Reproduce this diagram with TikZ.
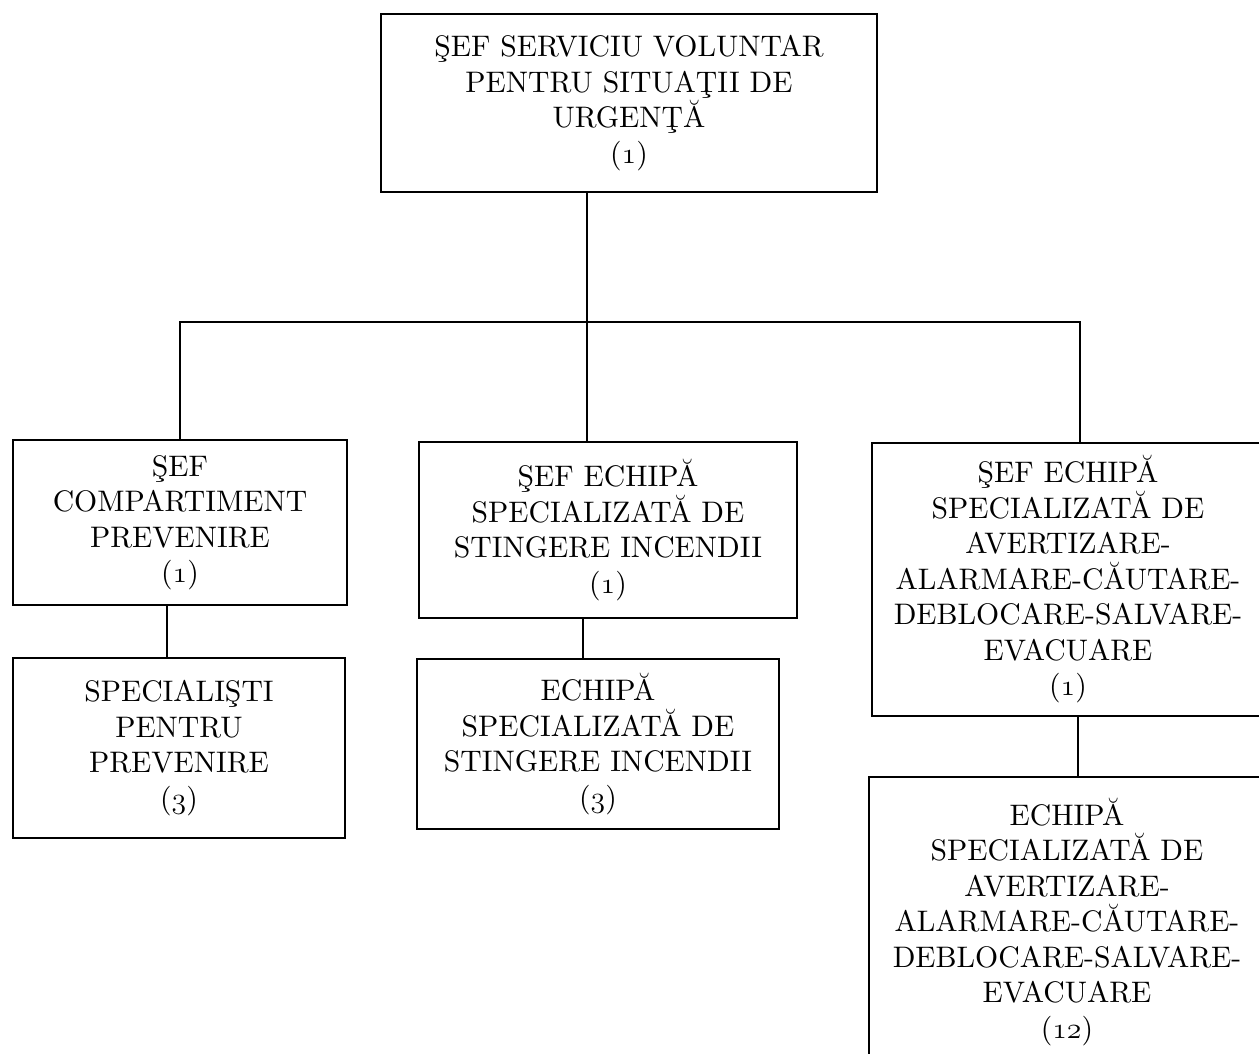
\documentclass[tikz,border=0pt]{standalone}
\usepackage{fix-cm}
\usepackage{fontspec}
\setmainfont{lmroman10-regular.otf}
\tikzstyle{box} = [rectangle, draw, line width=1pt, align=center, inner sep=0pt, font=\fontsize{16.9}{20.2}\selectfont]
\tikzstyle{link} = [line width=1pt]
\newcommand{\osn}[1]{{\fontencoding{OML}\fontfamily{cmm}\fontshape{it}\selectfont #1}}

\begin{document}
\begin{tikzpicture}[x=0.02cm, y=0.02cm]
            \useasboundingbox (0,0) rectangle (1259,-1054);
            \node [box, minimum width=9.92cm, minimum height=3.56cm] at (629,-103) (boss) {ŞEF SERVICIU VOLUNTAR\\ PENTRU SITUAŢII DE\\ URGENŢĂ\\ (\osn{1})};
            \node [box, minimum width=6.68cm, minimum height=3.3cm] at (180,-522.5) (prev) {ŞEF\\ COMPARTIMENT\\ PREVENIRE\\ (\osn{1})};
            \node [box, minimum width=6.64cm, minimum height=3.6cm] at (179,-748) (spec) {SPECIALIŞTI\\ PENTRU\\ PREVENIRE\\ (\osn{3})};
            \node [box, minimum width=7.56cm, minimum height=3.52cm] at (608,-530) (stingsef) {ŞEF ECHIPĂ\\ SPECIALIZATĂ DE\\ STINGERE INCENDII\\ (\osn{1})};
            \node [box, minimum width=7.24cm, minimum height=3.4cm] at (598,-744) (sting) {ECHIPĂ\\ SPECIALIZATĂ DE\\ STINGERE INCENDII\\ (\osn{3})};
            \node [box, minimum width=7.84cm, minimum height=5.46cm] at (1068,-579.5) (avsef) {ŞEF ECHIPĂ\\ SPECIALIZATĂ DE\\ AVERTIZARE-\\ ALARMARE-CĂUTARE-\\ DEBLOCARE-SALVARE-\\ EVACUARE\\ (\osn{1})};
            \node [box, minimum width=7.92cm, minimum height=5.8cm] at (1067,-922) (av) {ECHIPĂ\\ SPECIALIZATĂ DE\\ AVERTIZARE-\\ ALARMARE-CĂUTARE-\\ DEBLOCARE-SALVARE-\\ EVACUARE\\ (\osn{12})};
            \coordinate (hub) at (587,-322);
            \draw [link] (boss.south -| hub) -- (hub);
            \draw [link] (prev.north) |- (hub);
            \draw [link] (hub) -- (stingsef.north -| hub);
            \draw [link] (hub) -| ([xshift=0.24cm]avsef.north);
            \draw [link] ([xshift=-0.26cm]prev.south) -- ([xshift=-0.26cm]prev.south |- spec.north);
            \draw [link] ([xshift=-0.5cm]stingsef.south) -- ([xshift=-0.5cm]stingsef.south |- sting.north);
            \draw [link] ([xshift=0.2cm]avsef.south) -- ([xshift=0.2cm]avsef.south |- av.north);
            \end{tikzpicture}
\end{document}
